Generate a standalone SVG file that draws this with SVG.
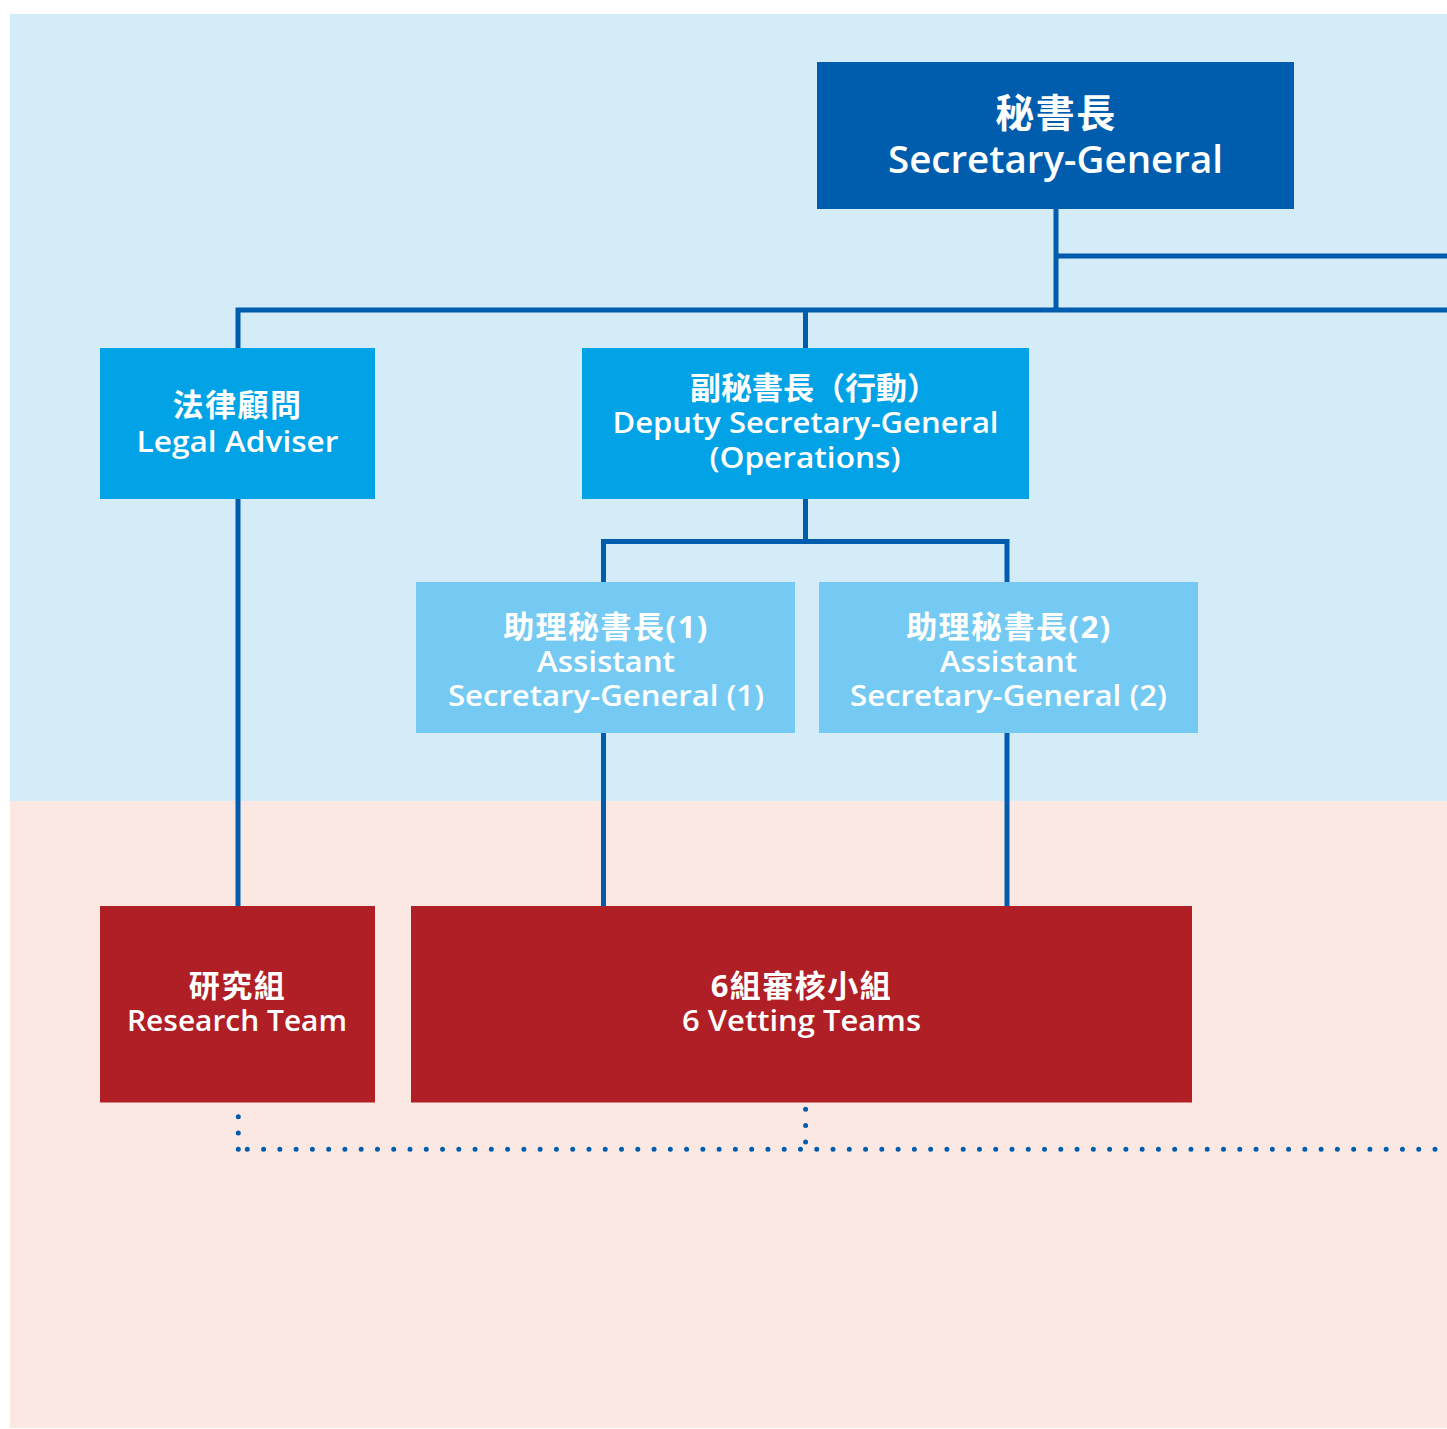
<svg xmlns="http://www.w3.org/2000/svg" width="1447" height="1429" viewBox="0 0 1447 1429">
<style>
.ln{fill:none;stroke:#005DAE;stroke-width:5;stroke-linejoin:miter;stroke-linecap:butt}
.dot{fill:none;stroke:#005DAE;stroke-width:5;stroke-linecap:round}
.t{font-family:"Open Sans","Noto Sans CJK TC",sans-serif;fill:#FFFFFF;text-anchor:middle;font-weight:600}
.zh{font-family:"Open Sans","Noto Sans CJK TC",sans-serif;fill:#FFFFFF;text-anchor:middle;font-weight:700;font-size:31px;letter-spacing:1.5px}
</style>
<rect x="0" y="0" width="1447" height="1429" fill="#FFFFFF"/>
<rect x="10" y="14" width="1437" height="787" fill="#D4EBF8"/>
<rect x="10" y="801" width="1437" height="627" fill="#FCE8E3"/>
<g id="connectors">
<path class="ln" d="M1056 209 V310 M1056 256 H1447 M238 348 V310 H1447 M805.5 310 V348 M805.5 499 V541.5 M603.5 582 V541.5 H1007 V582 M238 499 V906 M603.5 733 V906 M1007 733 V906"/>
<path class="dot" d="M238.3 1116.7 V1150" stroke-dasharray="0 16.3"/>
<path class="dot" d="M805.6 1109.3 V1143" stroke-dasharray="0 16.3"/>
<path class="dot" d="M247.3 1149.3 H1440" stroke-dasharray="0 16.27"/>
</g>
<g id="sg">
<rect x="817" y="62" width="477" height="147" fill="#005DAE"/>
<text class="zh" x="1056" y="127" style="font-size:39px">秘書長</text>
<text class="t" x="1055.5" y="173" font-size="38.5" textLength="335" lengthAdjust="spacingAndGlyphs">Secretary-General</text>
</g>
<g id="legal">
<rect x="100" y="348" width="275" height="151" fill="#02A2E7"/>
<text class="zh" x="237.5" y="416">法律顧問</text>
<text class="t" x="237.5" y="451.7" font-size="29" textLength="202" lengthAdjust="spacingAndGlyphs">Legal Adviser</text>
</g>
<g id="dsg">
<rect x="582" y="348" width="447" height="151" fill="#02A2E7"/>
<text class="zh" x="814" y="398.5" style="letter-spacing:0">副秘書長（行動）</text>
<text class="t" x="805.5" y="432.7" font-size="29" textLength="386" lengthAdjust="spacingAndGlyphs">Deputy Secretary-General</text>
<text class="t" x="805" y="467.5" font-size="29" textLength="191" lengthAdjust="spacingAndGlyphs">(Operations)</text>
</g>
<g id="asg1">
<rect x="416" y="582" width="379" height="151" fill="#74CAF2"/>
<text class="zh" x="606" y="638">助理秘書長(1)</text>
<text class="t" x="606" y="672.3" font-size="29" textLength="138" lengthAdjust="spacingAndGlyphs">Assistant</text>
<text class="t" x="606" y="706" font-size="29" textLength="316" lengthAdjust="spacingAndGlyphs">Secretary-General (1)</text>
</g>
<g id="asg2">
<rect x="819" y="582" width="379" height="151" fill="#74CAF2"/>
<text class="zh" x="1009" y="638">助理秘書長(2)</text>
<text class="t" x="1008.5" y="672.3" font-size="29" textLength="137" lengthAdjust="spacingAndGlyphs">Assistant</text>
<text class="t" x="1008.5" y="706" font-size="29" textLength="317" lengthAdjust="spacingAndGlyphs">Secretary-General (2)</text>
</g>
<g id="research">
<rect x="100" y="906" width="275" height="196.5" fill="#B01F25"/>
<text class="zh" x="237.5" y="996.5">研究組</text>
<text class="t" x="237" y="1030.7" font-size="29" textLength="220" lengthAdjust="spacingAndGlyphs">Research Team</text>
</g>
<g id="vetting">
<rect x="411" y="906" width="781" height="196.5" fill="#B01F25"/>
<text class="zh" x="801.5" y="996.5">6組審核小組</text>
<text class="t" x="801.5" y="1031" font-size="29" textLength="239" lengthAdjust="spacingAndGlyphs">6 Vetting Teams</text>
</g>
</svg>
